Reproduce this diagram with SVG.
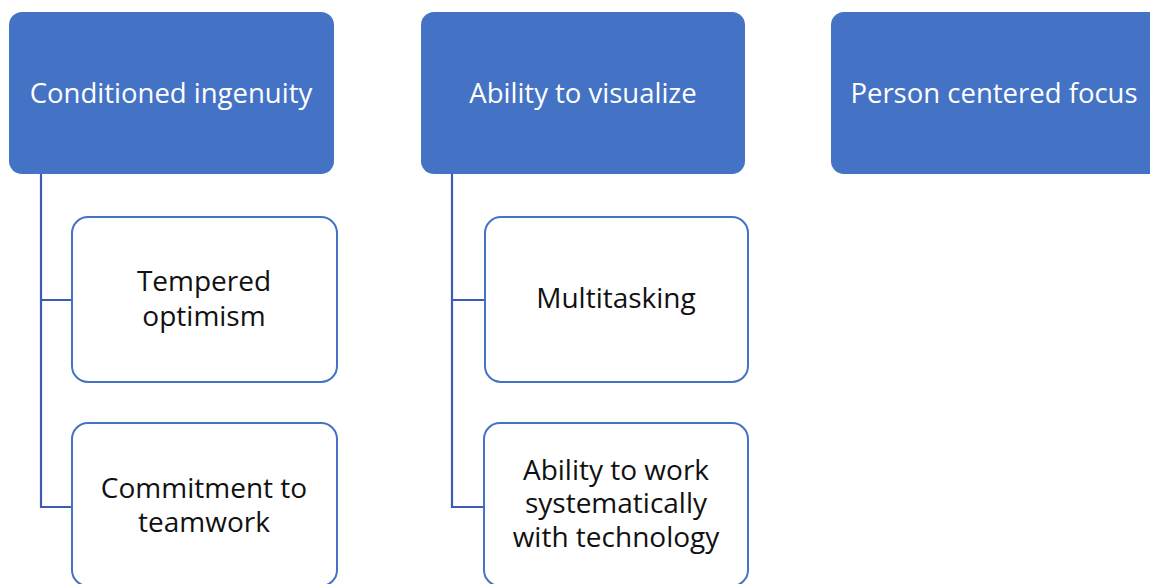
<svg xmlns="http://www.w3.org/2000/svg" width="1150" height="584" viewBox="0 0 1150 584">
<style>
.hdr{fill:#4472C4;}
.hdr-t{fill:#ffffff;font-family:"Open Sans","Liberation Sans",sans-serif;font-size:27.5px;font-weight:500;text-anchor:middle;}
.child{fill:#ffffff;stroke:#4472C4;stroke-width:2;}
.child-t{fill:#111111;font-family:"Open Sans","Liberation Sans",sans-serif;font-size:28px;font-weight:500;text-anchor:middle;}
.conn{fill:none;stroke:#3B5BB5;stroke-width:2.2;}
</style>
<rect width="1150" height="584" fill="#ffffff"/>
<g id="connectors">
<path class="conn" d="M41 174 V507 H72 M41 300 H72"/>
<path class="conn" d="M452 174 V507 H484 M452 300 H484"/>
</g>
<g id="n-conditioned">
<rect class="hdr" x="9" y="12" width="325" height="162" rx="13"/>
<text class="hdr-t" x="171" y="103">Conditioned ingenuity</text>
</g>
<g id="n-visualize">
<rect class="hdr" x="421" y="12" width="324" height="162" rx="13"/>
<text class="hdr-t" x="583" y="103">Ability to visualize</text>
</g>
<g id="n-person">
<rect class="hdr" x="831" y="12" width="332" height="162" rx="13"/>
<text class="hdr-t" x="994" y="103">Person centered focus</text>
</g>
<g id="n-tempered">
<rect class="child" x="72" y="217" width="265" height="165" rx="16"/>
<text class="child-t" x="204" y="291">Tempered</text>
<text class="child-t" x="204" y="326">optimism</text>
</g>
<g id="n-commitment">
<rect class="child" x="72" y="423" width="265" height="163" rx="16"/>
<text class="child-t" x="204" y="498">Commitment to</text>
<text class="child-t" x="204" y="532">teamwork</text>
</g>
<g id="n-multitasking">
<rect class="child" x="485" y="217" width="263" height="165" rx="16"/>
<text class="child-t" x="616" y="308">Multitasking</text>
</g>
<g id="n-systematic">
<rect class="child" x="484" y="423" width="264" height="163" rx="16"/>
<text class="child-t" x="616" y="480">Ability to work</text>
<text class="child-t" x="616" y="513">systematically</text>
<text class="child-t" x="616" y="547">with technology</text>
</g>
</svg>
